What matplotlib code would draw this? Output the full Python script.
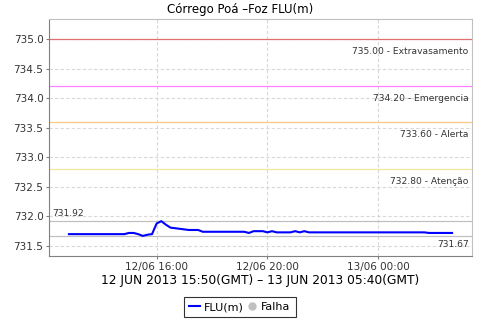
import matplotlib
matplotlib.use("Agg")
import matplotlib.pyplot as plt
import matplotlib.dates as mdates
from matplotlib.lines import Line2D
import numpy as np
import pandas as pd

# ---- data ----
start_time = "2013-06-12 12:50"
step_minutes = 10
levels = [
    731.70, 731.70, 731.70, 731.70, 731.70, 731.70, 731.70, 731.70, 731.70, 731.70,
    731.70, 731.70, 731.70, 731.72, 731.72, 731.70, 731.67, 731.69, 731.70, 731.88,
    731.92, 731.86, 731.81, 731.80, 731.79, 731.78, 731.77, 731.77, 731.77, 731.74,
    731.74, 731.74, 731.74, 731.74, 731.74, 731.74, 731.74, 731.74, 731.74, 731.72,
    731.75, 731.75, 731.75, 731.73, 731.75, 731.73, 731.73, 731.73, 731.73, 731.75,
    731.73, 731.75, 731.73, 731.73, 731.73, 731.73, 731.73, 731.73, 731.73, 731.73,
    731.73, 731.73, 731.73, 731.73, 731.73, 731.73, 731.73, 731.73, 731.73, 731.73,
    731.73, 731.73, 731.73, 731.73, 731.73, 731.73, 731.73, 731.73, 731.72, 731.72,
    731.72, 731.72, 731.72, 731.72,
]
thresholds = [735.00, 734.20, 733.60, 732.80]
threshold_names = ["Extravasamento", "Emergencia", "Alerta", "Atenção"]
threshold_colors = ["#e07070", "#ff80ff", "#ffc880", "#f0e89a"]
max_val = 731.92
min_val = 731.67
title = "Córrego Poá –Foz FLU(m)"
xlabel = "12 JUN 2013 15:50(GMT) – 13 JUN 2013 05:40(GMT)"
xtick_times = ["2013-06-12 16:00", "2013-06-12 20:00", "2013-06-13 00:00"]
ytick_vals = [731.5, 732.0, 732.5, 733.0, 733.5, 734.0, 734.5, 735.0]

times = pd.date_range(start_time, periods=len(levels), freq=f"{step_minutes}min")

plt.rcParams['font.family'] = ['DejaVu Sans']
fig = plt.figure(figsize=(4.8, 3.2), dpi=100)
ax = fig.add_axes([49/480, 64/320, (472-49)/480, (256-19)/320])

t0 = mdates.date2num(times[0])
t1 = mdates.date2num(times[-1])
span = t1 - t0
ax.set_xlim(t0 - span*0.052, t1 + span*0.052)
ax.set_ylim(731.33, 735.34)

# grid
ax.set_yticks(ytick_vals)
ax.set_yticklabels([f"{v:.1f}" for v in ytick_vals], fontsize=7.5, color="#333333")
xt = [mdates.date2num(pd.Timestamp(t)) for t in xtick_times]
ax.set_xticks(xt)
ax.set_xticklabels([pd.Timestamp(t).strftime("%d/%m %H:%M") for t in xtick_times], fontsize=7.5, color="#333333")
ax.grid(True, color="#d8d8d8", linestyle=(0, (3, 2)), linewidth=0.8)
ax.set_axisbelow(True)
ax.tick_params(length=2, color="#808080", pad=2)

for s in ["left", "bottom"]:
    ax.spines[s].set_color("#808080")
for s in ["top", "right"]:
    ax.spines[s].set_color("#c0c0c0")

xl = ax.get_xlim()
xr = xl[1] - (xl[1]-xl[0]) * 0.008
for v, n, c in zip(thresholds, threshold_names, threshold_colors):
    ax.axhline(v, color=c, linewidth=0.9)
    ax.annotate(f"{v:.2f} - {n}", xy=(xr, v), xytext=(0, -9), textcoords="offset points",
                ha="right", va="center", fontsize=6.6, color="#333333")

ax.axhline(max_val, color="#c0c0c0", linewidth=0.9)
ax.axhline(min_val, color="#c0c0c0", linewidth=0.9)
xlft = xl[0] + (xl[1]-xl[0]) * 0.008
ax.annotate(f"{max_val:.2f}", xy=(xlft, max_val), xytext=(0, 5.5), textcoords="offset points",
            ha="left", va="center", fontsize=6.6, color="#333333")
ax.annotate(f"{min_val:.2f}", xy=(xr, min_val), xytext=(0, -6.5), textcoords="offset points",
            ha="right", va="center", fontsize=6.6, color="#333333")

ax.plot(times, levels, color="#0000ff", linewidth=1.5, label="FLU(m)")

fig.text(0.5, 1 - 10/320, title, ha="center", va="center", fontsize=8.5)
ax.set_xlabel(xlabel, fontsize=8.8, labelpad=2)

handles = [Line2D([], [], color="#0000ff", linewidth=1.5),
           Line2D([], [], color="#c0c0c0", marker="o", linestyle="none", markersize=5)]
leg = fig.legend(handles, ["FLU(m)", "Falha"], loc="center", bbox_to_anchor=(240/480, 1-307/320),
                 ncol=2, fontsize=8, frameon=True, fancybox=False, handlelength=1.0,
                 handletextpad=0.3, columnspacing=0.3, borderpad=0.45, borderaxespad=0)
leg.get_frame().set_edgecolor("#000000")
leg.get_frame().set_linewidth(0.8)

fig.savefig("out.png", dpi=100)
